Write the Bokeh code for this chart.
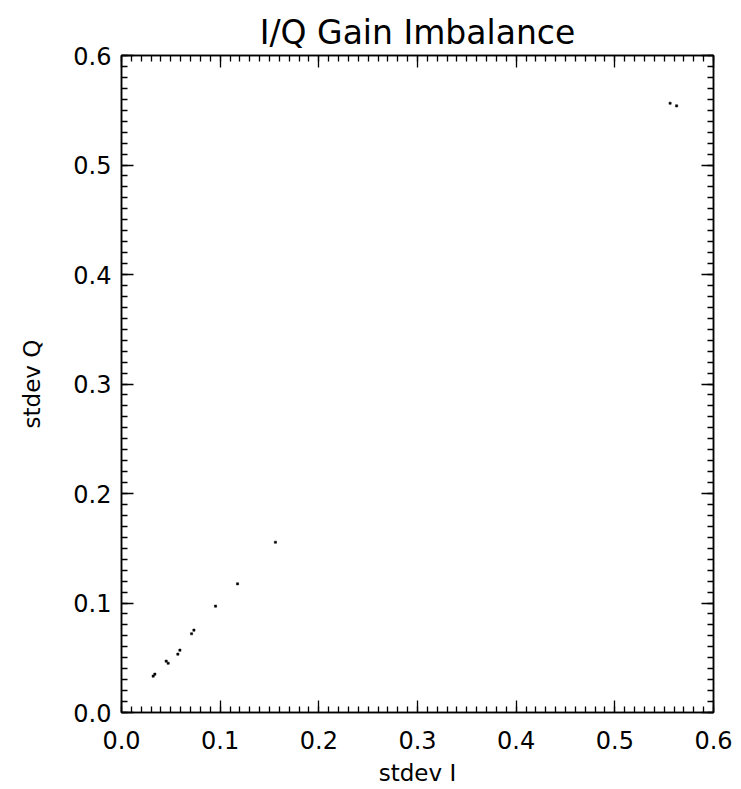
from bokeh.plotting import figure
from bokeh.models import Range1d, LinearAxis, FixedTicker, Title
from bokeh.embed import file_html
from bokeh.resources import INLINE

# data
stdev_i = [0.0321, 0.0338, 0.0453, 0.0473, 0.0571, 0.0592, 0.0710, 0.0734,
           0.0953, 0.1176, 0.1560, 0.5560, 0.5626]
stdev_q = [0.0332, 0.0350, 0.0469, 0.0450, 0.0533, 0.0569, 0.0719, 0.0752,
           0.0971, 0.1175, 0.1555, 0.5564, 0.5540]
tick_values = [0.0, 0.1, 0.2, 0.3, 0.4, 0.5, 0.6]
tick_labels = ["0.0", "0.1", "0.2", "0.3", "0.4", "0.5", "0.6"]
minor_values = [i / 100 for i in range(61)]

FONT = "DejaVu Sans"

p = figure(width=736, height=789, output_backend="svg", toolbar_location=None,
           x_range=Range1d(0, 0.6), y_range=Range1d(0, 0.6),
           x_axis_location=None, y_axis_location=None,
           min_border_left=121, min_border_right=23,
           min_border_top=55, min_border_bottom=77)
p.grid.visible = False
p.outline_line_color = "black"
p.outline_line_width = 1.5
p.background_fill_color = "white"
p.border_fill_color = "white"

overrides = {v: l for v, l in zip(tick_values, tick_labels)}


def make_axis(side, show_labels):
    ax = LinearAxis(ticker=FixedTicker(ticks=tick_values, minor_ticks=minor_values))
    ax.axis_line_color = "black"
    ax.axis_line_width = 1.5
    ax.major_tick_line_color = "black"
    ax.minor_tick_line_color = "black"
    ax.major_tick_line_width = 1.3
    ax.minor_tick_line_width = 1.3
    ax.major_tick_in = 12
    ax.major_tick_out = 0
    ax.minor_tick_in = 6
    ax.minor_tick_out = 0
    if show_labels:
        ax.major_label_overrides = overrides
        ax.major_label_text_font = FONT
        ax.major_label_text_font_size = "24px"
        ax.major_label_text_color = "black"
        ax.axis_label_text_font = FONT
        ax.axis_label_text_font_size = "23px"
        ax.axis_label_text_font_style = "normal"
        ax.axis_label_text_color = "black"
    else:
        ax.major_label_text_font_size = "0px"
        ax.major_label_text_alpha = 0
        ax.major_label_standoff = 0
    p.add_layout(ax, side)
    return ax


xb = make_axis("below", True)
xb.axis_label = "stdev I"
xb.major_label_standoff = 18
xb.axis_label_standoff = 8

yl = make_axis("left", True)
yl.axis_label = "stdev Q"
yl.major_label_standoff = 10
yl.axis_label_standoff = 25

make_axis("above", False)
make_axis("right", False)

p.add_layout(Title(text="I/Q Gain Imbalance", align="center",
                   text_font=FONT, text_font_size="33px",
                   text_font_style="normal", text_color="black",
                   standoff=7), "above")

p.scatter(stdev_i, stdev_q, marker="square", size=2.2,
          fill_color="black", line_color="black", line_width=0.5)

open("out.html", "w").write(file_html(p, INLINE))
